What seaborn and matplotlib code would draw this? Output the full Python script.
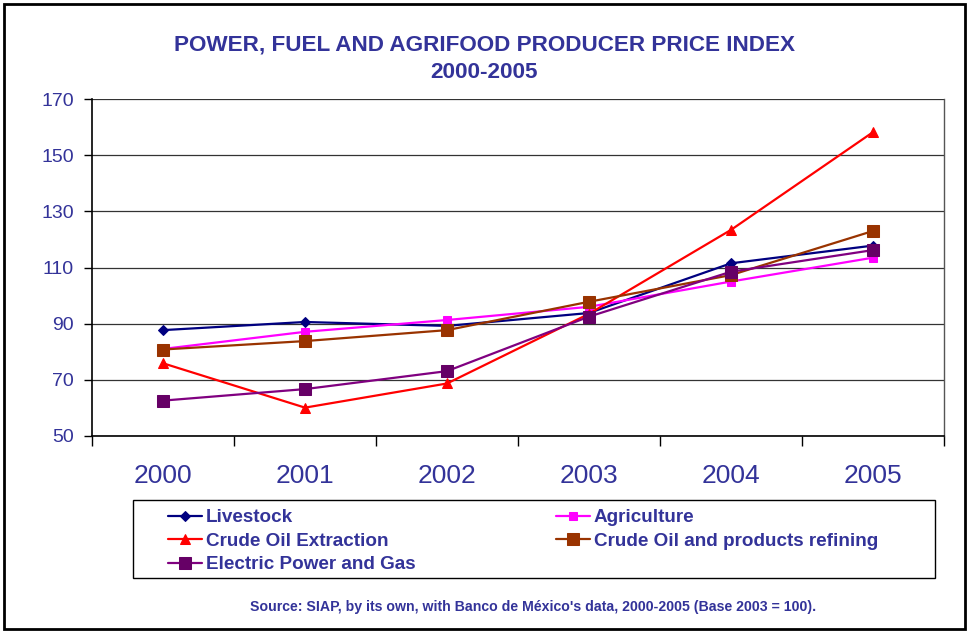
import numpy as np
import pandas as pd
import matplotlib
matplotlib.use("Agg")
import matplotlib.pyplot as plt
from matplotlib.patches import Rectangle
import seaborn as sns

years = ["2000", "2001", "2002", "2003", "2004", "2005"]
livestock = [87.7, 90.6, 89.2, 93.8, 111.5, 117.8]
agriculture = [81.0, 87.1, 91.3, 96.0, 105.0, 113.5]
crude_extraction = [75.9, 60.1, 68.7, 93.5, 123.4, 158.2]
refining = [80.8, 83.8, 87.7, 97.8, 107.3, 123.0]
electric = [62.6, 66.7, 73.1, 92.5, 108.5, 116.2]

series_names = ["Livestock", "Agriculture", "Crude Oil Extraction",
                "Crude Oil and products refining", "Electric Power and Gas"]
y_ticks = [50, 70, 90, 110, 130, 150, 170]

sns.set_theme(style="white")
plt.rcParams["font.family"] = ["Liberation Sans", "DejaVu Sans"]

TXT = "#333399"
styles = {
    "Livestock": dict(color="#000080", marker="D", markersize=5, mfc="#000080", mec="#000080"),
    "Agriculture": dict(color="#FF00FF", marker="s", markersize=5.5, mfc="#FF00FF", mec="#FF00FF"),
    "Crude Oil Extraction": dict(color="#FF0000", marker="^", markersize=6.5, mfc="#FF0000", mec="#FF0000"),
    "Crude Oil and products refining": dict(color="#993300", marker="s", markersize=8.5, mfc="#993300", mec="#993300"),
    "Electric Power and Gas": dict(color="#800080", marker="s", markersize=8.5, mfc="#660066", mec="#660066"),
}

data = {"Livestock": livestock, "Agriculture": agriculture,
        "Crude Oil Extraction": crude_extraction,
        "Crude Oil and products refining": refining,
        "Electric Power and Gas": electric}

pos = np.arange(len(years))
fig = plt.figure(figsize=(9.67, 6.31), dpi=100)
ax = fig.add_axes([92 / 967, 1 - 436 / 631, (944 - 92) / 967, (436 - 99) / 631])

handles = {}
for name in series_names:
    df = pd.DataFrame({"pos": pos, "value": data[name]})
    st = styles[name]
    sns.lineplot(data=df, x="pos", y="value", ax=ax, color=st["color"], lw=1.6,
                 marker=st["marker"], markersize=st["markersize"],
                 markerfacecolor=st["mfc"], markeredgecolor=st["mec"],
                 label=name, zorder=3)
h, l = ax.get_legend_handles_labels()
for hh, ll in zip(h, l):
    handles[ll] = hh
ax.get_legend().remove()

ax.set_xlim(-0.5, len(years) - 0.5)
ax.set_ylim(50, 170)
ax.set_yticks(y_ticks)
ax.set_yticklabels([str(v) for v in y_ticks], color=TXT, fontsize=14)
ax.set_xticks(pos)
ax.set_xticklabels(years, color=TXT, fontsize=19)
ax.set_xticks(np.arange(len(years) + 1) - 0.5, minor=True)
ax.tick_params(axis="x", which="major", length=0, pad=20)
ax.tick_params(axis="x", which="minor", length=7, width=1, color="black", direction="out", bottom=True)
ax.tick_params(axis="y", which="major", length=6, width=1, color="black", direction="out", pad=7, left=True)
ax.set_xlabel("")
ax.set_ylabel("")
ax.yaxis.grid(True, color="#333333", lw=0.9)
ax.xaxis.grid(False)
for s in ["left", "bottom"]:
    ax.spines[s].set_color("black")
    ax.spines[s].set_linewidth(1.2)
ax.spines["right"].set_color("#555555")
ax.spines["right"].set_linewidth(1.0)
ax.spines["top"].set_visible(False)

fig.text(484 / 967, 1 - 45 / 631, "POWER, FUEL AND AGRIFOOD PRODUCER PRICE INDEX",
         ha="center", va="center", color=TXT, fontsize=16.2, fontweight="bold")
fig.text(484 / 967, 1 - 72 / 631, "2000-2005",
         ha="center", va="center", color=TXT, fontsize=16.2, fontweight="bold")

# legend frame
fig.patches.append(Rectangle((133 / 967, 1 - 578 / 631), (935 - 133) / 967, 78 / 631,
                             transform=fig.transFigure, fill=False, ec="black", lw=1.0))
col1 = ["Livestock", "Crude Oil Extraction", "Electric Power and Gas"]
col2 = ["Agriculture", "Crude Oil and products refining"]
leg_kw = dict(loc="upper left", frameon=False, borderpad=0, borderaxespad=0,
              handlelength=1.8, handletextpad=0.2, labelspacing=0.33,
              prop={"weight": "bold", "size": 13.6}, labelcolor=TXT)
leg1 = fig.legend([handles[n] for n in col1], col1,
                  bbox_to_anchor=(168 / 967, 1 - 509 / 631), **leg_kw)
leg2 = fig.legend([handles[n] for n in col2], col2,
                  bbox_to_anchor=(556 / 967, 1 - 509 / 631), **leg_kw)

fig.text(533 / 967, 1 - 607 / 631,
         "Source: SIAP, by its own, with Banco de México's data, 2000-2005 (Base 2003 = 100).",
         ha="center", va="center", color=TXT, fontsize=10.2, fontweight="bold")

# outer border
fig.patches.append(Rectangle((4 / 967, 2 / 631), (965 - 4) / 967, (629 - 4) / 631,
                             transform=fig.transFigure, fill=False, ec="black", lw=2.0))

fig.savefig("out.png", dpi=100)
